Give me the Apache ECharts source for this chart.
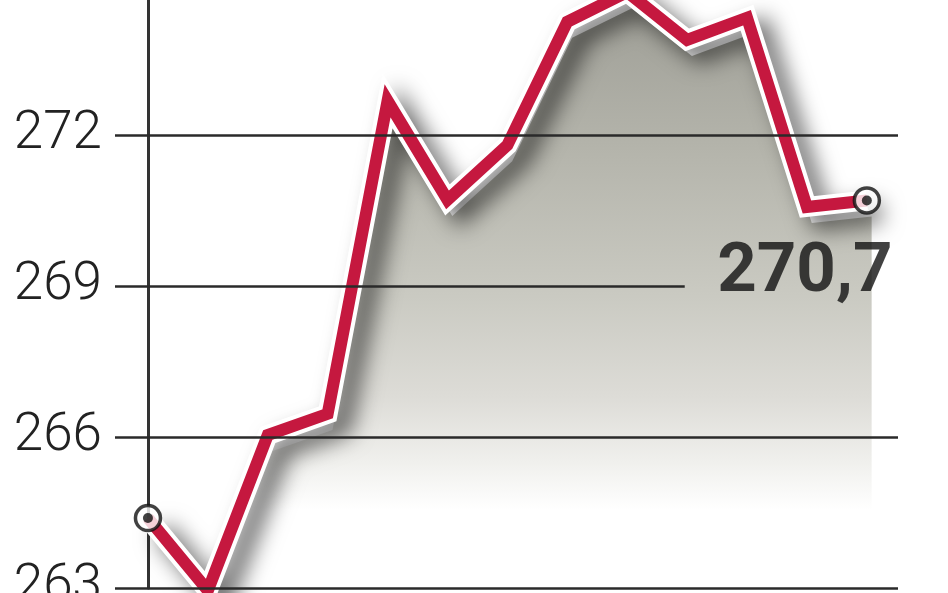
<!DOCTYPE html>
<html>
<head>
<meta charset="utf-8">
<script src="https://cdn.jsdelivr.net/npm/echarts@6/dist/echarts.min.js"></script>
<style>
html,body{margin:0;padding:0;background:#fff;}
#c{width:948px;height:593px;}
</style>
</head>
<body>
<div id="c"></div>
<script>
const pointIndex = [0,1,2,3,4,5,6,7,8,9,10,11,12];
const values = [264.39, 262.95, 266.04, 266.46, 272.68, 270.71, 271.8, 274.25, 274.84, 273.89, 274.33, 270.57, 270.7];
const yTicks = [263, 266, 269, 272, 275];
const endLabel = '270,7';

const xMin = -0.55, xMax = 12.52;
const shiftX = 0.08, shiftY = 0.32;
const pts = pointIndex.map((x,i)=>[x, values[i]]);
const last = pts.length - 1;

const gridLines = yTicks.slice(0,4).map(v => [
  {coord:[xMin, v]},
  {coord:[v === 269 ? 8.96 : xMax, v]}
]);

const chart = echarts.init(document.getElementById('c'), null, {renderer:'canvas'});
const font = 'Roboto,"DejaVu Sans Condensed",sans-serif';
chart.setOption({
  animation:false,
  backgroundColor:'#ffffff',
  grid:{left:115, right:50, top:-16, bottom:5, containLabel:false, outerBoundsMode:'none'},
  xAxis:[
    {type:'value', min:xMin, max:xMax, show:false, splitLine:{show:false}},
    {type:'value', min:xMin - shiftX, max:xMax - shiftX, show:false, splitLine:{show:false}}
  ],
  yAxis:[
    {type:'value', min:263, max:275, interval:3,
     axisLine:{show:true, lineStyle:{color:'#333', width:3}},
     axisTick:{show:false},
     splitLine:{show:false},
     axisLabel:{show:true, margin:13, color:'#222', fontSize:53, fontFamily:font, fontWeight:300}
    },
    {type:'value', min:263 + shiftY, max:275 + shiftY, show:false, splitLine:{show:false}}
  ],
  series:[
    {
      name:'shade', type:'line', xAxisIndex:1, yAxisIndex:1, data:pts, z:1,
      symbol:'none', clip:false,
      lineStyle:{width:0, opacity:0},
      areaStyle:{
        opacity:1,
        color:new echarts.graphic.LinearGradient(0,0,0,593,[
          {offset:0, color:'#9e9e96'},
          {offset:0.25, color:'#b4b4ab'},
          {offset:0.5, color:'#cacac2'},
          {offset:0.67, color:'#dddcd7'},
          {offset:0.78, color:'#f0f0ed'},
          {offset:0.86, color:'#ffffff'},
          {offset:1, color:'#ffffff'}
        ], true)
      },
      silent:true
    },
    {
      name:'grid', type:'line', data:[], z:2, silent:true,
      markLine:{
        silent:true, symbol:['none','none'], label:{show:false},
        lineStyle:{color:'#2a2a2a', width:2.5, type:'solid'},
        data:gridLines.concat([[{coord:[-0.08, values[0]]},{coord:[-0.08, 262.8]}]])
      }
    },
    {
      name:'border', type:'line', data:pts, z:3, symbol:'none', clip:false, silent:true,
      lineStyle:{color:'#ffffff', width:20, join:'miter',
        shadowColor:'rgba(0,0,0,0.6)', shadowBlur:22, shadowOffsetX:14, shadowOffsetY:12}
    },
    {
      name:'line', type:'line', data:pts, z:4, symbol:'none', clip:false, silent:true,
      lineStyle:{color:'#c5183f', width:12, join:'miter'}
    },
    {
      name:'ends', type:'scatter', z:5, clip:false, silent:true,
      data:[pts[0], pts[last]],
      symbol:'circle', symbolSize:25,
      itemStyle:{color:'#ffffff', borderColor:'#111', borderWidth:3.5},
      label:{show:true,
        formatter:(p)=> p.dataIndex === 1 ? endLabel : '',
        position:'bottom', distance:25, offset:[-62,0],
        fontFamily:font, fontWeight:'bold', fontSize:69, color:'#111', lineHeight:69}
    },
    {
      name:'dots', type:'scatter', z:6, clip:false, silent:true,
      data:[pts[0], pts[last]],
      symbol:'circle', symbolSize:10,
      itemStyle:{color:'#111'}
    }
  ]
});
</script>
</body>
</html>
